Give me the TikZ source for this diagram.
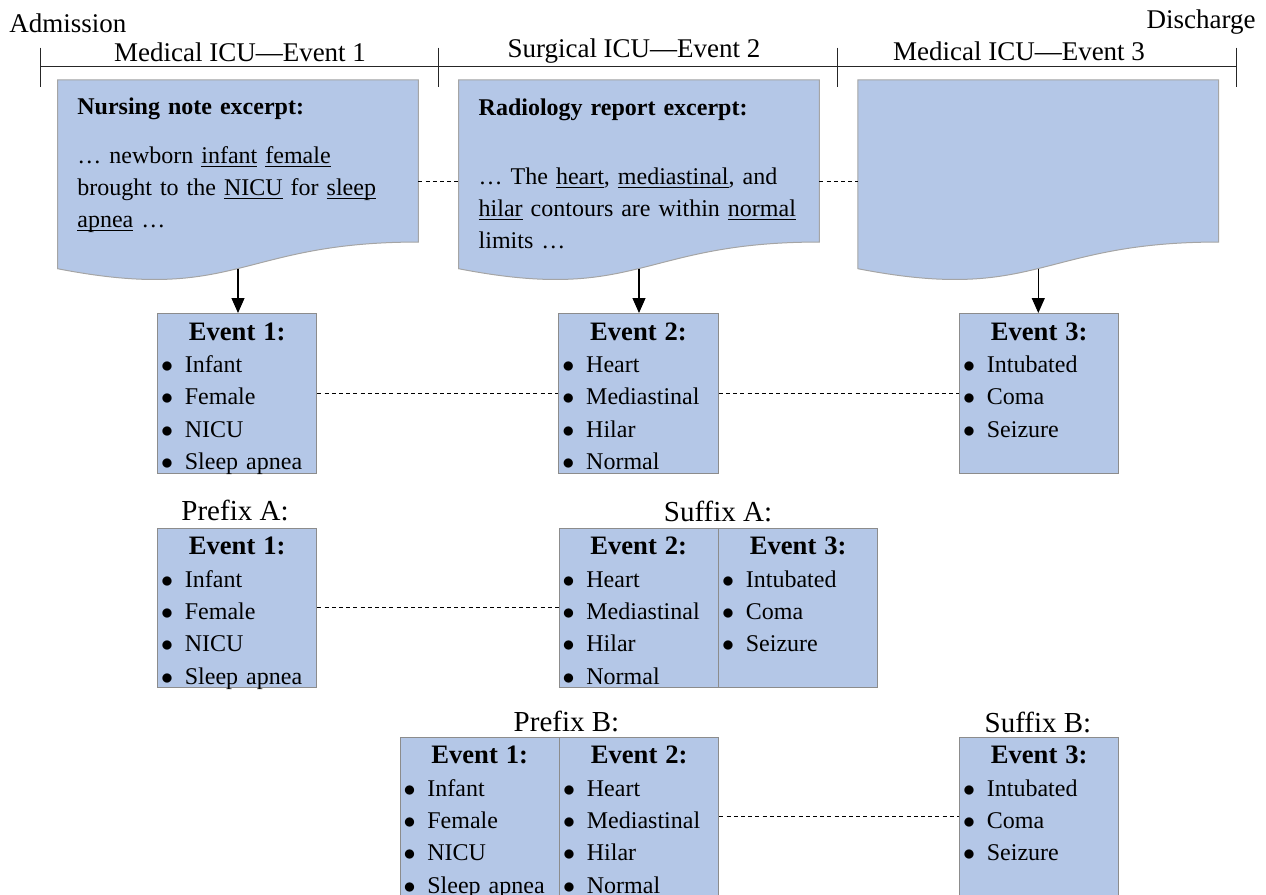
\documentclass[tikz,border=0pt]{standalone}
\usepackage{fontspec}
\setmainfont{Liberation Serif}
\usetikzlibrary{arrows.meta,calc}
\definecolor{boxfill}{HTML}{B4C7E7}
\definecolor{boxline}{HTML}{8C8C8C}
\definecolor{docline}{HTML}{A5A5A5}
\newcommand{\uword}[1]{\underline{\smash{#1}}}
\newcommand{\evtitle}[1]{\makebox[\linewidth]{\fontsize{13.3}{16.2}\selectfont\bfseries #1}}
\newcommand{\evitem}[1]{\\\hspace*{1.8pt}\makebox[11.9pt][l]{$\bullet$}#1}
\begin{document}
\begin{tikzpicture}[x=0.5pt,y=-0.5pt]
              \tikzstyle{every node}+=[inner sep=0pt]
              \tikzstyle{docshape}=[fill=boxfill, draw=docline, line width=0.5pt]
              \tikzstyle{notetext}=[anchor=north west, text width=170pt, align=left, text height=10pt, font=\fontsize{12}{16}\selectfont]
              \tikzstyle{evbox}=[draw=boxline, fill=boxfill, line width=0.5pt, anchor=north west, text width=79.7pt, text height=13.3pt, text depth=66.5pt, align=left, font=\fontsize{12}{16.2}\selectfont]
              \tikzstyle{seglabel}=[anchor=base, font=\fontsize{13.5}{16}\selectfont]
              \tikzstyle{setlabel}=[anchor=base, font=\fontsize{14.5}{17}\selectfont]
              \tikzstyle{link}=[dash pattern=on 2pt off 1.6pt, line width=0.5pt]
              \tikzstyle{feed}=[-{Triangle[width=6.5pt,length=7.5pt]}, line width=0.6pt]
              \useasboundingbox (0,0) rectangle (1266,895);
              \coordinate (tk0) at (40,66.7);
              \coordinate (tk1) at (438,66.7);
              \coordinate (tk2) at (837,66.7);
              \coordinate (tk3) at (1236,66.7);
              \draw [black!85, line width=0.5pt] (tk0) -- (tk3);
              \draw [black!85, line width=0.5pt] (40,47.7) -- (40,87.3);
              \draw [black!85, line width=0.5pt] (438,47.7) -- (438,87.3);
              \draw [black!85, line width=0.5pt] (837,47.7) -- (837,87.3);
              \draw [black!85, line width=0.5pt] (1236,47.7) -- (1236,87.3);
              \node [seglabel, anchor=base west] (admission) at (9,32.3) {Admission};
              \node [seglabel, anchor=base east] (discharge) at (1256,28.3) {Discharge};
              \node [seglabel] (seg1) at (240,61) {Medical ICU—Event 1};
              \node [seglabel] (seg2) at (634,57.3) {Surgical ICU—Event 2};
              \node [seglabel] (seg3) at (1019,60) {Medical ICU—Event 3};
              \node [minimum width=180pt, minimum height=100.65pt] (doc1) at (238,181) {};
              \node [minimum width=180pt, minimum height=100.65pt] (doc2) at (639,181) {};
              \node [minimum width=180pt, minimum height=100.65pt] (doc3) at (1038.3,181) {};
              \filldraw [docshape] (doc1.north west) -- (doc1.north east) -- ($(doc1.north east)!0.802!(doc1.south east)$) .. controls ($(doc1.north)!0.802!(doc1.south)$) and ($(doc1.north)!1.1075!(doc1.south)$) .. ($(doc1.north west)!0.934!(doc1.south west)$) -- cycle;
              \filldraw [docshape] (doc2.north west) -- (doc2.north east) -- ($(doc2.north east)!0.802!(doc2.south east)$) .. controls ($(doc2.north)!0.802!(doc2.south)$) and ($(doc2.north)!1.1075!(doc2.south)$) .. ($(doc2.north west)!0.934!(doc2.south west)$) -- cycle;
              \filldraw [docshape] (doc3.north west) -- (doc3.north east) -- ($(doc3.north east)!0.802!(doc3.south east)$) .. controls ($(doc3.north)!0.802!(doc3.south)$) and ($(doc3.north)!1.1075!(doc3.south)$) .. ($(doc3.north west)!0.934!(doc3.south west)$) -- cycle;
              \coordinate (doc1b) at ($(doc1.north)!0.933!(doc1.south)$);
              \coordinate (doc2b) at ($(doc2.north)!0.933!(doc2.south)$);
              \coordinate (doc3b) at ($(doc3.north)!0.933!(doc3.south)$);
              \node [notetext] (note1) at (77,94) {\textbf{Nursing note excerpt:}\\[8.5pt]… newborn \uword{infant} \uword{female}\\brought to the \uword{NICU} for \uword{sleep}\\\uword{apnea} …};
              \node [notetext] (note2) at (478.3,95) {\textbf{Radiology report excerpt:}\\[18.5pt]… The \uword{heart}, \uword{mediastinal}, and\\\uword{hilar} contours are within \uword{normal}\\limits …};
              \draw [link] (doc1.east) -- (doc2.west);
              \draw [link] (doc2.east) -- (doc3.west);
              \node [evbox] (ev1) at (157,313) {\evtitle{Event 1:}\evitem{Infant}\evitem{Female}\evitem{NICU}\evitem{Sleep apnea}};
              \node [evbox] (ev2) at (558.3,313) {\evtitle{Event 2:}\evitem{Heart}\evitem{Mediastinal}\evitem{Hilar}\evitem{Normal}};
              \node [evbox] (ev3) at (959,313) {\evtitle{Event 3:}\evitem{Intubated}\evitem{Coma}\evitem{Seizure}};
              \draw [feed] (doc1b) -- (doc1b |- ev1.north);
              \draw [feed] (doc2b) -- (doc2b |- ev2.north);
              \draw [feed] (doc3b) -- (doc3b |- ev3.north);
              \draw [link] (ev1.east) -- (ev2.west);
              \draw [link] (ev2.east) -- (ev3.west);
              \node [setlabel] (prefixa) at (235,520) {Prefix A:};
              \node [setlabel] (suffixa) at (718,521) {Suffix A:};
              \node [evbox] (pa1) at (157,527.5) {\evtitle{Event 1:}\evitem{Infant}\evitem{Female}\evitem{NICU}\evitem{Sleep apnea}};
              \node [evbox] (sa2) at (558.5,527.5) {\evtitle{Event 2:}\evitem{Heart}\evitem{Mediastinal}\evitem{Hilar}\evitem{Normal}};
              \node [evbox] (sa3) at (718,527.5) {\evtitle{Event 3:}\evitem{Intubated}\evitem{Coma}\evitem{Seizure}};
              \draw [link] (pa1.east) -- (sa2.west);
              \node [setlabel] (prefixb) at (566.5,731.5) {Prefix B:};
              \node [setlabel] (suffixb) at (1038,732.5) {Suffix B:};
              \node [evbox] (pb1) at (399.5,736.5) {\evtitle{Event 1:}\evitem{Infant}\evitem{Female}\evitem{NICU}\evitem{Sleep apnea}};
              \node [evbox] (pb2) at (559,736.5) {\evtitle{Event 2:}\evitem{Heart}\evitem{Mediastinal}\evitem{Hilar}\evitem{Normal}};
              \node [evbox] (sb3) at (959,736.5) {\evtitle{Event 3:}\evitem{Intubated}\evitem{Coma}\evitem{Seizure}};
              \draw [link] (pb2.east) -- (sb3.west);
            \end{tikzpicture}
\end{document}
